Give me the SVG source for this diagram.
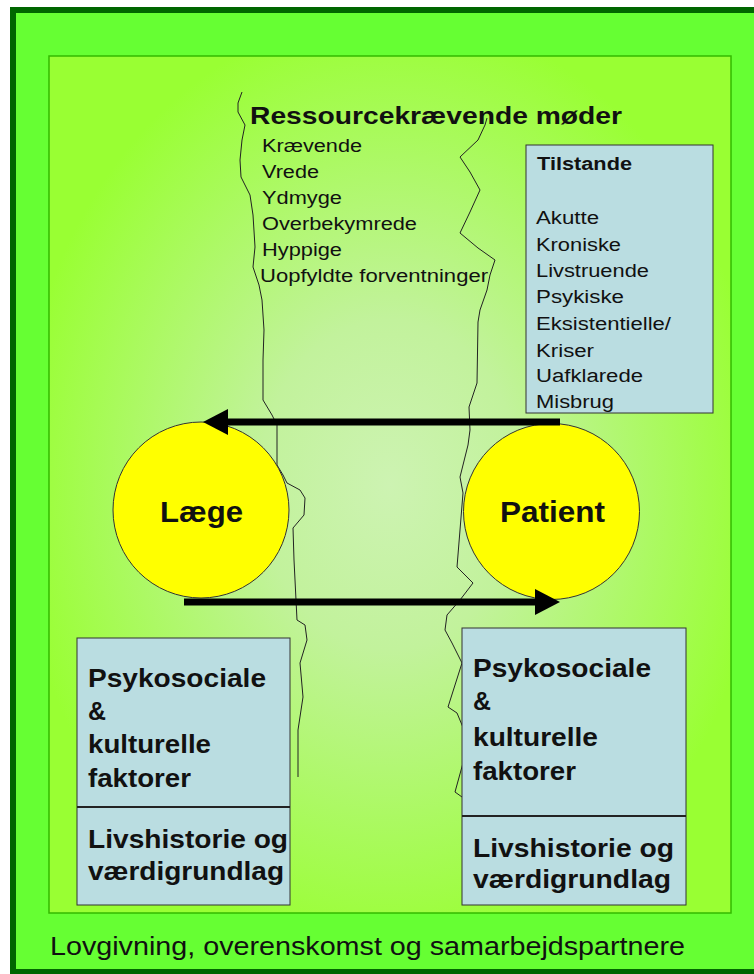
<svg xmlns="http://www.w3.org/2000/svg" width="754" height="974" viewBox="0 0 754 974">
<defs>
<radialGradient id="panelGrad" cx="50%" cy="50%" r="55%">
<stop offset="0" stop-color="#cdf3b2"/>
<stop offset="0.35" stop-color="#c2f29c"/>
<stop offset="1" stop-color="#99ff33"/>
</radialGradient>
<marker id="head" markerUnits="userSpaceOnUse" markerWidth="26" markerHeight="27" refX="0" refY="13" orient="auto">
<path d="M0,0 L25,13 L0,26 z" fill="#000"/>
</marker>
<style>
text{font-family:"Liberation Sans",Arial,sans-serif;fill:#111}
.b{font-weight:bold}
.item{font-size:18px}
.big{font-size:25px;font-weight:bold}
.circ{fill:#ffff00;stroke:#333;stroke-width:1}
.box{fill:#badde1;stroke:#333;stroke-width:1}
.wave{fill:none;stroke:#222;stroke-width:1}
.arrow{stroke:#000;stroke-width:7;fill:none}
</style>
</defs>
<g id="background">
<rect x="13" y="10" width="760" height="962" fill="#66ff33" stroke="#006600" stroke-width="6"/>
<rect x="49" y="56" width="682" height="857" fill="url(#panelGrad)" stroke="#33bb00" stroke-width="1.5"/>
</g>
<g id="boundaries">
<path class="wave" d="M242,92 L238,103 L238,112 L245,125 L242,140 L240,160 L241,177 L250,195 L253,215 L255,247 L253,267 L259,285 L262,300 L264,330 L263,360 L263,400 L272,415 L277,425 L277,465 L283,475 L287,483 L300,490 L305,498 L304,515 L293,528 L294,560 L295,580 L297,620 L305,625 L307,640 L300,663 L303,697 L298,730 L298,777"/>
<path class="wave" d="M487,118 L485,125 L478,140 L460,157 L470,172 L480,190 L470,212 L460,233 L478,248 L495,260 L490,275 L487,290 L480,310 L478,322 L477,383 L469,407 L470,430 L468,445 L460,477 L463,493 L460,530 L457,567 L473,583 L460,600 L447,615 L445,630 L452,643 L462,663 L455,685 L448,707 L457,713 L467,737 L470,750 L463,763 L455,792 L462,797"/>
</g>
<g id="ressourcekraevende">
<text class="b" x="250" y="124" font-size="24" textLength="372" lengthAdjust="spacingAndGlyphs">Ressourcekrævende møder</text>
<text class="item" x="262" y="152" textLength="100" lengthAdjust="spacingAndGlyphs">Krævende</text>
<text class="item" x="262" y="178" textLength="57" lengthAdjust="spacingAndGlyphs">Vrede</text>
<text class="item" x="262" y="204" textLength="80" lengthAdjust="spacingAndGlyphs">Ydmyge</text>
<text class="item" x="262" y="230" textLength="155" lengthAdjust="spacingAndGlyphs">Overbekymrede</text>
<text class="item" x="262" y="256" textLength="80" lengthAdjust="spacingAndGlyphs">Hyppige</text>
<text class="item" x="260" y="282" textLength="228" lengthAdjust="spacingAndGlyphs">Uopfyldte forventninger</text>
</g>
<g id="tilstande">
<rect class="box" x="526" y="145" width="187" height="268"/>
<text class="item b" x="537" y="170" textLength="95" lengthAdjust="spacingAndGlyphs">Tilstande</text>
<text class="item" x="536" y="224" textLength="63" lengthAdjust="spacingAndGlyphs">Akutte</text>
<text class="item" x="536" y="251" textLength="85" lengthAdjust="spacingAndGlyphs">Kroniske</text>
<text class="item" x="536" y="277" textLength="113" lengthAdjust="spacingAndGlyphs">Livstruende</text>
<text class="item" x="536" y="303" textLength="88" lengthAdjust="spacingAndGlyphs">Psykiske</text>
<text class="item" x="536" y="330" textLength="135" lengthAdjust="spacingAndGlyphs">Eksistentielle/</text>
<text class="item" x="536" y="357" textLength="58" lengthAdjust="spacingAndGlyphs">Kriser</text>
<text class="item" x="536" y="382" textLength="107" lengthAdjust="spacingAndGlyphs">Uafklarede</text>
<text class="item" x="536" y="408" textLength="78" lengthAdjust="spacingAndGlyphs">Misbrug</text>
</g>
<g id="laege">
<circle class="circ" cx="201" cy="510" r="88"/>
<text class="b" x="160" y="522" font-size="30" textLength="83" lengthAdjust="spacingAndGlyphs">Læge</text>
</g>
<g id="patient">
<circle class="circ" cx="551.5" cy="511.5" r="88"/>
<text class="b" x="500" y="522" font-size="30" textLength="105" lengthAdjust="spacingAndGlyphs">Patient</text>
</g>
<g id="connectors">
<line class="arrow" x1="560" y1="422" x2="228" y2="422" marker-end="url(#head)"/>
<line class="arrow" x1="184" y1="602" x2="535" y2="602" marker-end="url(#head)"/>
</g>
<g id="laege-faktorer">
<rect class="box" x="77" y="638" width="213" height="267"/>
<line x1="77" y1="807" x2="290" y2="807" stroke="#222" stroke-width="2"/>
<text class="big" x="88" y="687" textLength="178" lengthAdjust="spacingAndGlyphs">Psykosociale</text>
<text class="big" x="88" y="720" textLength="18" lengthAdjust="spacingAndGlyphs">&amp;</text>
<text class="big" x="88" y="753" textLength="123" lengthAdjust="spacingAndGlyphs">kulturelle</text>
<text class="big" x="88" y="787" textLength="103" lengthAdjust="spacingAndGlyphs">faktorer</text>
<text class="big" x="88" y="848" textLength="200" lengthAdjust="spacingAndGlyphs">Livshistorie og</text>
<text class="big" x="88" y="880" textLength="196" lengthAdjust="spacingAndGlyphs">værdigrundlag</text>
</g>
<g id="patient-faktorer">
<rect class="box" x="462" y="628" width="224" height="277"/>
<line x1="462" y1="816" x2="686" y2="816" stroke="#222" stroke-width="2"/>
<text class="big" x="473" y="677" textLength="178" lengthAdjust="spacingAndGlyphs">Psykosociale</text>
<text class="big" x="473" y="710" textLength="18" lengthAdjust="spacingAndGlyphs">&amp;</text>
<text class="big" x="473" y="746" textLength="125" lengthAdjust="spacingAndGlyphs">kulturelle</text>
<text class="big" x="473" y="780" textLength="103" lengthAdjust="spacingAndGlyphs">faktorer</text>
<text class="big" x="473" y="857" textLength="201" lengthAdjust="spacingAndGlyphs">Livshistorie og</text>
<text class="big" x="473" y="888" textLength="198" lengthAdjust="spacingAndGlyphs">værdigrundlag</text>
</g>
<g id="footer">
<text x="50" y="955" font-size="25" textLength="635" lengthAdjust="spacingAndGlyphs">Lovgivning, overenskomst og samarbejdspartnere</text>
</g>
</svg>
